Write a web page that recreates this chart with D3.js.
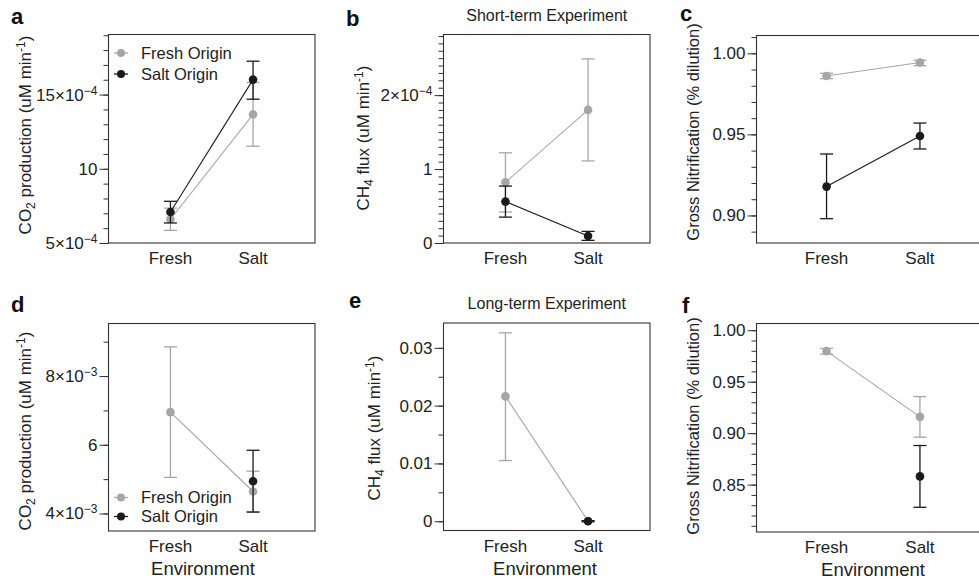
<!DOCTYPE html>
<html lang="en">
<head>
<meta charset="utf-8">
<title>Fresh vs salt origin - short and long term</title>
<style>
  body { margin: 0; background: #fff; }
  svg { display: block; font-family: "Liberation Sans", Arial, sans-serif; }
  .tick text { font-size: 17px; fill: #222; }
  .tick line { stroke: #333; }
</style>
</head>
<body>
<div id="chart"></div>
<script src="https://cdn.jsdelivr.net/npm/d3@7"></script>
<script>
// x categories
const environments = ["Fresh", "Salt"];

// every value is [mean, lower, upper], one per environment; null = not measured
// a: CO2 production, short-term (x10^-4 uM/min)
const aFreshOrigin = [[6.6, 5.85, 7.35], [13.67, 11.52, 15.82]];
const aSaltOrigin  = [[7.09, 6.35, 7.81], [16.01, 14.69, 17.25]];
// b: CH4 flux, short-term (x10^-4 uM/min)
const bFreshOrigin = [[0.82, 0.42, 1.22], [1.80, 1.11, 2.49]];
const bSaltOrigin  = [[0.56, 0.35, 0.77], [0.094, 0.036, 0.157]];
// c: gross nitrification, short-term
const cFreshOrigin = [[0.986, 0.9844, 0.9877], [0.9943, 0.9924, 0.9957]];
const cSaltOrigin  = [[0.9178, 0.898, 0.9379], [0.949, 0.941, 0.957]];
// d: CO2 production, long-term (x10^-3 uM/min)
const dFreshOrigin = [[6.95, 5.05, 8.85], [4.64, 4.05, 5.23]];
const dSaltOrigin  = [null, [4.94, 4.04, 5.84]];
// e: CH4 flux, long-term
const eFreshOrigin = [[0.0216, 0.0105, 0.0326], [0.00005, 0.0, 0.0001]];
const eSaltOrigin  = [null, [0.0, -0.0001, 0.0001]];
// f: gross nitrification, long-term
const fFreshOrigin = [[0.9797, 0.9768, 0.9823], [0.9158, 0.8961, 0.9355]];
const fSaltOrigin  = [null, [0.858, 0.828, 0.888]];

// major ticks and their labels ([text, superscript])
const aTicks = [5, 10, 15];
const aTickLabels = [["5×10", "−4"], ["10", ""], ["15×10", "−4"]];
const bTicks = [0, 1, 2];
const bTickLabels = [["0", ""], ["1", ""], ["2×10", "−4"]];
const cTicks = [0.90, 0.95, 1.00];
const cTickLabels = [["0.90", ""], ["0.95", ""], ["1.00", ""]];
const dTicks = [4, 6, 8];
const dTickLabels = [["4×10", "−3"], ["6", ""], ["8×10", "−3"]];
const eTicks = [0, 0.01, 0.02, 0.03];
const eTickLabels = [["0", ""], ["0.01", ""], ["0.02", ""], ["0.03", ""]];
const fTicks = [0.85, 0.90, 0.95, 1.00];
const fTickLabels = [["0.85", ""], ["0.90", ""], ["0.95", ""], ["1.00", ""]];

const seriesNames = ["Fresh Origin", "Salt Origin"];
const seriesColors = ["#a6a6a6", "#1b1b1b"];

const co2Title = [["CO"], ["2", "sub"], [" production (uM min"], ["-1", "sup"], [")"]];
const ch4Title = [["CH"], ["4", "sub"], [" flux (uM min"], ["-1", "sup"], [")"]];
const nitTitle = [["Gross Nitrification (% dilution)"]];

const panels = [
  { letter: "a", series: [aFreshOrigin, aSaltOrigin], ticks: aTicks, labels: aTickLabels,
    domain: [5, 19.05], minor: [5, 19, 1], box: [108.5, 34.5, 315, 243],
    ytitle: co2Title, ytx: 25, yty: 135, letterPos: [11, 24], legend: [53, 74] },
  { letter: "b", series: [bFreshOrigin, bSaltOrigin], ticks: bTicks, labels: bTickLabels,
    domain: [0, 2.82], minor: [0, 2.8, 0.1], box: [443.5, 34.5, 650, 243],
    ytitle: ch4Title, ytx: 363, yty: 138, letterPos: [346, 26], title: "Short-term Experiment" },
  { letter: "c", series: [cFreshOrigin, cSaltOrigin], ticks: cTicks, labels: cTickLabels,
    domain: [0.883, 1.011], minor: [0.89, 1.01, 0.01], box: [756.5, 35.5, 990, 243],
    ytitle: nitTitle, ytx: 693, yty: 132, letterPos: [680, 21] },
  { letter: "d", series: [dFreshOrigin, dSaltOrigin], ticks: dTicks, labels: dTickLabels,
    domain: [3.49, 9.53], minor: [4, 9, 1], box: [108.5, 323.5, 315, 531],
    ytitle: co2Title, ytx: 25, yty: 431, letterPos: [11, 312], legend: [497.5, 516.5], xtitle: 203 },
  { letter: "e", series: [eFreshOrigin, eSaltOrigin], ticks: eTicks, labels: eTickLabels,
    domain: [-0.0016, 0.0343], minor: [0, 0.03, 0.005], box: [443.5, 323, 650, 530.5],
    ytitle: ch4Title, ytx: 374, yty: 428, letterPos: [349, 308], title: "Long-term Experiment", xtitle: 545 },
  { letter: "f", series: [fFreshOrigin, fSaltOrigin], ticks: fTicks, labels: fTickLabels,
    domain: [0.804, 1.0065], minor: [0.81, 1.0, 0.01], box: [756.5, 323.5, 990, 532],
    ytitle: nitTitle, ytx: 693, yty: 426, letterPos: [682, 313], xtitle: 873 }
];

const svg = d3.select("#chart").append("svg")
    .attr("width", 979)
    .attr("height", 579);

// text with sub/superscript pieces; shifts are undone on the next piece
const writeRich = (text, parts, small) => {
  let shift = 0;
  parts.forEach(([s, kind]) => {
    const t = text.append("tspan").text(s);
    const want = kind === "sub" ? 4 : kind === "sup" ? -6 : 0;
    if (want !== shift) t.attr("dy", want - shift);
    shift = want;
    if (kind) t.attr("font-size", small);
  });
};

panels.forEach(p => {
  const [x0, y0, x1, y1] = p.box;
  const x = d3.scalePoint().domain(environments).range([x0, x1]).padding(0.75);
  const y = d3.scaleLinear().domain(p.domain).range([y1, y0]);
  const g = svg.append("g");

  const [m0, m1, step] = p.minor;
  const minor = d3.range(Math.round((m1 - m0) / step) + 1).map(i => m0 + i * step);

  g.append("g")
      .attr("transform", `translate(${x0},0)`)
      .call(d3.axisLeft(y).tickValues(minor).tickSize(5).tickFormat(""))
      .call(a => a.select(".domain").remove());

  const major = g.append("g")
      .attr("transform", `translate(${x0},0)`)
      .call(d3.axisLeft(y).tickValues(p.ticks).tickSize(9).tickPadding(2).tickFormat(""))
      .call(a => a.select(".domain").remove());
  major.selectAll(".tick text").each(function(d, i) {
    const t = d3.select(this).text("");
    const [base, sup] = p.labels[i];
    t.append("tspan").text(base);
    if (sup) t.append("tspan").attr("dy", -6).attr("font-size", "12px").text(sup);
  });

  // x labels
  g.selectAll(".xlab")
    .data(environments)
    .join("text")
      .attr("x", d => x(d))
      .attr("y", y1 + 21)
      .attr("text-anchor", "middle")
      .attr("font-size", 17)
      .attr("fill", "#222")
      .text(d => d);

  // series: fresh origin first (grey), salt origin on top (black)
  p.series.forEach((vals, si) => {
    const col = seriesColors[si];
    const pts = vals.map((v, i) => v ? { env: environments[i], m: v[0], lo: v[1], hi: v[2] } : null)
      .filter(d => d);
    g.append("path")
        .datum(pts)
        .attr("fill", "none")
        .attr("stroke", col)
        .attr("stroke-width", 1.1)
        .attr("d", d3.line().x(d => x(d.env)).y(d => y(d.m)));
    const eb = g.append("g").attr("stroke", col).attr("stroke-width", 1.3);
    pts.forEach(d => {
      eb.append("line").attr("x1", x(d.env)).attr("x2", x(d.env)).attr("y1", y(d.lo)).attr("y2", y(d.hi));
      [d.lo, d.hi].forEach(v => {
        eb.append("line").attr("x1", x(d.env) - 6.5).attr("x2", x(d.env) + 6.5).attr("y1", y(v)).attr("y2", y(v));
      });
    });
    g.selectAll(null)
      .data(pts)
      .join("circle")
        .attr("cx", d => x(d.env))
        .attr("cy", d => y(d.m))
        .attr("r", 4.3)
        .attr("fill", col);
  });

  g.append("rect")
      .attr("x", x0).attr("y", y0)
      .attr("width", x1 - x0).attr("height", y1 - y0)
      .attr("fill", "none")
      .attr("stroke", "#333")
      .attr("stroke-width", 1.1);

  // y title
  const yt = g.append("text")
      .attr("transform", `translate(${p.ytx},${p.yty}) rotate(-90)`)
      .attr("text-anchor", "middle")
      .attr("dy", "0.35em")
      .attr("font-size", p.ytitle === nitTitle ? 16.5 : 17)
      .attr("fill", "#222");
  writeRich(yt, p.ytitle, "12px");

  g.append("text")
      .attr("x", p.letterPos[0]).attr("y", p.letterPos[1])
      .attr("font-size", 22).attr("font-weight", "bold").attr("fill", "#111")
      .text(p.letter);

  if (p.title) {
    g.append("text")
        .attr("x", (x0 + x1) / 2).attr("y", y0 - 14)
        .attr("text-anchor", "middle").attr("font-size", 16).attr("fill", "#222")
        .text(p.title);
  }
  if (p.xtitle) {
    g.append("text")
        .attr("x", p.xtitle).attr("y", y1 + 44)
        .attr("text-anchor", "middle").attr("font-size", 18.5).attr("fill", "#222")
        .text("Environment");
  }
  if (p.legend) {
    p.legend.forEach((ly, si) => {
      g.append("line").attr("x1", 114).attr("x2", 128).attr("y1", ly).attr("y2", ly)
          .attr("stroke", seriesColors[si]).attr("stroke-width", 1.3);
      g.append("circle").attr("cx", 121).attr("cy", ly).attr("r", 4).attr("fill", seriesColors[si]);
      g.append("text").attr("x", 141).attr("y", ly).attr("dy", "0.35em")
          .attr("font-size", 16.5).attr("fill", "#222").text(seriesNames[si]);
    });
  }
});
</script>
</body>
</html>
